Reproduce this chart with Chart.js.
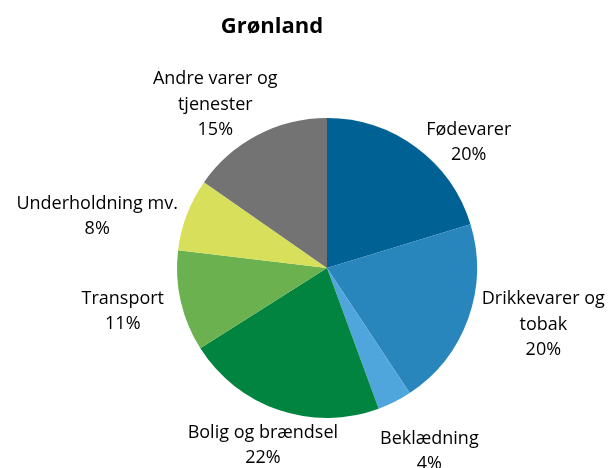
<!DOCTYPE html>
<html>
<head>
<meta charset="utf-8">
<script src="https://cdn.jsdelivr.net/npm/chart.js@4.4.0/dist/chart.umd.min.js"></script>
<style>
    html, body { margin: 0; padding: 0; background: #ffffff; }
    #wrap { width: 612px; height: 468px; position: relative; }
</style>
</head>
<body>
<div id="wrap"><canvas id="pie-chart-area" width="612" height="468"></canvas></div>
<script>
var chartTitle = "Grønland";
var arrLabel = [
    ["Fødevarer"],
    ["Drikkevarer og", "tobak"],
    ["Beklædning"],
    ["Bolig og brændsel"],
    ["Transport"],
    ["Underholdning mv."],
    ["Andre varer og", "tjenester"]
];
var arrData = [20.3, 20.4, 3.7, 21.6, 10.9, 7.8, 15.3];
var arrColor = ["#006194", "#2886bd", "#4ea6dc", "#00843f", "#6bb14f", "#d8e05b", "#737373"];
// small nudges for the label boxes (Excel "best fit" placement)
var labelShift = [[20, 25], [6, -11], [7, 16], [12, 0], [-6, 2], [-3, 15], [-8, 14]];

var labelFont = "18px 'Open Sans'";
var lineHeight = 25.5;

function $each(arr, fn) {
    for (var i = 0; i < arr.length; i++) {
        fn(i, arr[i]);
    }
}

// draws the outside labels and the title
var pieLabels = {
    id: 'pieLabels',
    afterDraw: function (chart) {
        var ctx = chart.ctx;
        var meta = chart.getDatasetMeta(0);
        var total = 0;
        for (var i in arrData) {
            total = total + arrData[i];
        }
        ctx.save();
        ctx.fillStyle = "#000000";
        ctx.textAlign = "center";
        ctx.textBaseline = "middle";

        ctx.font = "bold 22px 'Open Sans'";
        ctx.fillText(chartTitle, 272, 27);

        ctx.font = labelFont;
        $each(meta.data, function (i, arc) {
            var p = arc.getProps(['x', 'y', 'startAngle', 'endAngle', 'outerRadius']);
            var mid = (p.startAngle + p.endAngle) / 2;
            var lines = arrLabel[i].slice();
            lines.push(Math.round(100 * arrData[i] / total) + "%");
            var w = 0;
            for (var j in lines) {
                w = Math.max(w, ctx.measureText(lines[j]).width);
            }
            var h = lines.length * lineHeight;
            var ax = p.x + Math.cos(mid) * (p.outerRadius + 12);
            var ay = p.y + Math.sin(mid) * (p.outerRadius + 12);
            var cx = ax + Math.cos(mid) * w / 2 + labelShift[i][0];
            var cy = ay + Math.sin(mid) * h / 2 + labelShift[i][1];
            for (var k = 0; k < lines.length; k++) {
                ctx.fillText(lines[k], cx, cy - h / 2 + lineHeight * (k + 0.5));
            }
        });
        ctx.restore();
    }
};

function renderPie() {
    var configPie = {
        type: 'pie',
        data: {
            datasets: [{
                    data: arrData,
                    backgroundColor: arrColor,
                    borderWidth: 0
                }],
            labels: arrLabel.map(function (l) { return l.join(" "); })
        },
        options: {
            responsive: false,
            animation: false,
            layout: {
                padding: {left: 177, right: 135, top: 118, bottom: 50}
            },
            plugins: {
                legend: {display: false},
                tooltip: {enabled: false},
                title: {display: false}
            }
        },
        plugins: [pieLabels]
    };
    var myChartPie = document.getElementById("pie-chart-area").getContext("2d");
    var myPie = new Chart(myChartPie, configPie);
}

renderPie();
</script>
</body>
</html>
